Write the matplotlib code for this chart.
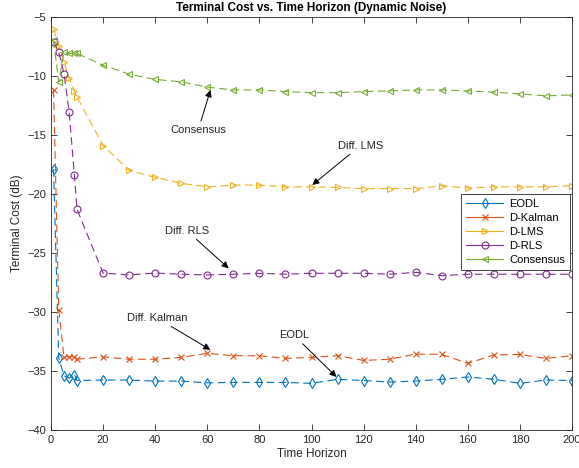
import matplotlib
matplotlib.use("Agg")
import matplotlib.pyplot as plt

plt.rcParams["font.family"] = ["Liberation Sans", "DejaVu Sans"]

# ── Data ──────────────────────────────────────────────────────────────────────

T = [1, 3, 5, 7, 9, 10, 20, 30, 40, 50, 60, 70, 80, 90, 100,
     110, 120, 130, 140, 150, 160, 170, 180, 190, 200]

eodl = [-17.9, -33.9, -35.4, -35.6, -35.3, -35.8, -35.76, -35.76, -35.85, -35.85,
        -36.0, -35.96, -35.96, -35.96, -36.04, -35.7, -35.8, -35.93, -35.85, -35.7,
        -35.5, -35.7, -36.04, -35.76, -35.8]
d_kalman = [-11.2, -29.8, -33.8, -33.8, -33.8, -34.0, -33.8, -34.0, -34.0, -33.84,
            -33.5, -33.7, -33.7, -33.93, -33.84, -33.7, -34.1, -34.0, -33.56, -33.59,
            -34.35, -33.64, -33.59, -33.93, -33.7]
d_lms = [-6.0, -7.5, -8.8, -10.2, -11.3, -11.8, -15.9, -18.0, -18.6, -19.1,
         -19.4, -19.25, -19.25, -19.4, -19.4, -19.45, -19.55, -19.55, -19.55, -19.3,
         -19.5, -19.4, -19.4, -19.4, -19.3]
d_rls = [-7.1, -8.0, -9.8, -13.1, -18.4, -21.3, -26.7, -26.86, -26.7, -26.8,
         -26.86, -26.8, -26.72, -26.8, -26.72, -26.72, -26.72, -26.8, -26.64, -26.92,
         -26.8, -26.8, -26.8, -26.8, -26.8]
consensus = [-7.0, -10.5, -8.0, -8.1, -8.1, -8.1, -9.1, -9.85, -10.3, -10.5,
             -10.95, -11.19, -11.19, -11.33, -11.42, -11.42, -11.33, -11.27, -11.19, -11.19,
             -11.27, -11.38, -11.53, -11.69, -11.61]

labels = ["EODL", "D-Kalman", "D-LMS", "D-RLS", "Consensus"]
series = [eodl, d_kalman, d_lms, d_rls, consensus]

# MATLAB default colour order
colors = ["#0072BD", "#D95319", "#EDB120", "#7E2F8E", "#77AC30"]
markers = ["d", "x", ">", "o", "<"]

# annotations: (text, arrow head (x, y), text centre (x, y))
notes = [
    ("Consensus",    (61.2, -11.2),  (56.5, -14.6)),
    ("Diff. LMS",    (100.3, -19.24), (118.8, -15.9)),
    ("Diff. RLS",    (68.2, -26.3),  (52.1, -23.1)),
    ("Diff. Kalman", (61.2, -33.2),  (40.7, -30.5)),
    ("EODL",         (109.6, -35.5), (93.2, -31.95)),
]

# ── Plot ──────────────────────────────────────────────────────────────────────

fig = plt.figure(figsize=(5.79, 4.68), dpi=100, facecolor="white")
ax = fig.add_axes([0.088, 0.081, 0.900, 0.883])

for y, lab, col, mk in zip(series, labels, colors, markers):
    ax.plot(T, y, linestyle="--", color=col, linewidth=0.8, marker=mk,
            markersize=5, markerfacecolor="none", markeredgecolor=col,
            markeredgewidth=0.8, label=lab, dashes=(7, 4))

for txt, head, tpos in notes:
    ax.annotate(txt, xy=head, xytext=tpos, ha="center", va="center",
                fontsize=8, color="#262626",
                arrowprops=dict(arrowstyle="-|>", color="k", lw=0.7,
                                mutation_scale=10, shrinkA=1, shrinkB=0))

ax.set_xlim(0, 200)
ax.set_ylim(-40, -5)
ax.set_xticks(range(0, 201, 20))
ax.set_yticks(range(-40, -4, 5))
ax.tick_params(direction="in", top=True, right=True, labelsize=8,
               colors="#262626", length=4, width=0.6)
for s in ax.spines.values():
    s.set_color("#262626")
    s.set_linewidth(0.6)

ax.set_xlabel("Time Horizon", fontsize=8.5, color="#262626", labelpad=2)
ax.set_ylabel("Terminal Cost (dB)", fontsize=8.5, color="#262626", labelpad=3)
ax.set_title("Terminal Cost vs. Time Horizon (Dynamic Noise)", fontsize=8.5,
             fontweight="bold", color="black", pad=4)

leg = ax.legend(loc="center right", bbox_to_anchor=(1.0, 0.48), fontsize=8,
                fancybox=False, edgecolor="#262626", framealpha=1,
                handlelength=3.3, borderpad=0.45, labelspacing=0.35,
                handletextpad=0.6, borderaxespad=0.15)
leg.get_frame().set_linewidth(0.6)
for h in leg.get_lines():
    h.set_linestyle("-")

fig.savefig("out.png", dpi=100)
